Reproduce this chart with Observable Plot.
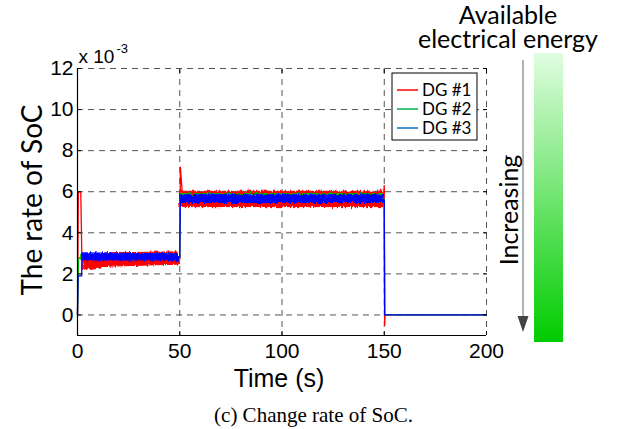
<!DOCTYPE html>
<html><head><meta charset="utf-8">
<script src="https://cdn.jsdelivr.net/npm/d3@7"></script>
<script src="https://cdn.jsdelivr.net/npm/@observablehq/plot@0.6"></script>
<style>
body{margin:0;background:#fff;}
#wrap{position:relative;width:619px;height:429px;overflow:hidden;background:#fff;}
#caption{position:absolute;left:4px;width:619px;top:403px;text-align:center;font-family:"Liberation Serif";font-size:21px;line-height:24px;color:#000;}
</style></head><body>
<div id="wrap"><div id="chart"></div><div id="caption">(c) Change rate of SoC.</div></div>
<script>
const xTicks = [0, 50, 100, 150, 200];
const yTicks = [0, 2, 4, 6, 8, 10, 12];
const seriesNames = ["DG #1", "DG #2", "DG #3"];
const seriesColors = ["#ff0000", "#00c000", "#0000ff"];
const legendColors = ["#ff0000", "#00b050", "#0070c0"];

// central trajectories (x 10^-3)
const dg1Time = [0, 0.4, 1.6, 2.2, 4, 10, 30, 49.6, 50, 50.3, 51.5, 100, 149.6, 150, 150.2, 150.4, 200];
const dg1Rate = [0, 6.0, 6.0, 2.4, 2.45, 2.6, 2.7, 2.75, 2.75, 7.2, 5.6, 5.6, 5.7, 6.3, -0.5, 0, 0];
const dg2Time = [0, 0.5, 1, 50, 50.3, 51, 150, 150.2, 200];
const dg2Rate = [0, 2.7, 2.8, 2.8, 5.9, 5.65, 5.65, 0, 0];
const dg3Time = [0, 0.3, 2, 2.3, 50, 50.3, 150, 150.2, 200];
const dg3Rate = [0, 1.9, 1.9, 2.95, 2.8, 5.6, 5.6, 0, 0];

// fluctuation envelopes
const bandSeries = ["DG #1","DG #1","DG #1","DG #1","DG #1", "DG #2","DG #2","DG #2","DG #2", "DG #3","DG #3","DG #3","DG #3"];
const bandSeg    = ["r1","r1","r1","r2","r2", "g1","g1","g2","g2", "b1","b1","b2","b2"];
const bandTime   = [3, 15, 49.6, 50.5, 149.6, 2, 49.6, 50.5, 149.6, 2.5, 49.6, 50.5, 149.6];
const bandLow    = [2.2, 2.35, 2.45, 5.25, 5.25, 2.7, 2.7, 5.5, 5.5, 2.65, 2.65, 5.45, 5.45];
const bandHigh   = [2.9, 3.0, 3.05, 6.0, 6.0, 2.95, 2.95, 5.88, 5.88, 3.0, 2.95, 5.83, 5.83];

const lines = [
  ...dg1Time.map((t, i) => ({t, v: dg1Rate[i], s: "DG #1"})),
  ...dg2Time.map((t, i) => ({t, v: dg2Rate[i], s: "DG #2"})),
  ...dg3Time.map((t, i) => ({t, v: dg3Rate[i], s: "DG #3"}))
];
const bands = bandTime.map((t, i) => ({t, lo: bandLow[i], hi: bandHigh[i], seg: bandSeg[i], s: bandSeries[i]}));

const dataMarks = [];
for (const name of seriesNames) {
  dataMarks.push(Plot.areaY(bands.filter(d => d.s === name), {x: "t", y1: "lo", y2: "hi", z: "seg", fill: "s", stroke: "s", strokeWidth: 1, curve: "linear", className: "band"}));
  dataMarks.push(Plot.lineY(lines.filter(d => d.s === name), {x: "t", y: "v", stroke: "s", strokeWidth: 1.3}));
}

const empty = () => "";
const chart = Plot.plot({
  width: 619, height: 395,
  marginLeft: 77, marginRight: 133, marginTop: 68, marginBottom: 60,
  style: {fontFamily: "Liberation Sans", background: "white", overflow: "visible", color: "#000"},
  x: {domain: [0, 200]},
  y: {domain: [-1, 12]},
  color: {domain: seriesNames, range: seriesColors},
  marks: [
    Plot.gridX(xTicks, {stroke: "#555", strokeOpacity: 1, strokeDasharray: "6,5"}),
    Plot.gridY(yTicks, {stroke: "#555", strokeOpacity: 1, strokeDasharray: "6,5"}),
    ...dataMarks,
    Plot.ruleX([0], {stroke: "#000", strokeWidth: 1.2}),
    Plot.ruleY([-1], {stroke: "#000", strokeWidth: 1.2}),
    Plot.axisX(xTicks, {anchor: "bottom", tickSize: 0, tickPadding: 8, fontSize: 21, label: null}),
    Plot.axisY(yTicks, {anchor: "left", tickSize: 0, tickPadding: 4, fontSize: 21, label: null}),
    Plot.axisX(xTicks, {anchor: "bottom", tickSize: -4, tickFormat: empty, label: null}),
    Plot.axisY(yTicks, {anchor: "left", tickSize: -4, tickFormat: empty, label: null}),
    Plot.axisX(xTicks, {anchor: "top", tickSize: -4, tickFormat: empty, label: null}),
    Plot.axisY(yTicks, {anchor: "right", tickSize: -4, tickFormat: empty, label: null}),
    Plot.text(["Time (s)"], {frameAnchor: "bottom", dx: -3, dy: 43, lineAnchor: "middle", textAnchor: "middle", fontSize: 25}),
    Plot.text(["The rate of SoC"], {frameAnchor: "left", dx: -44, dy: -2, rotate: -90, lineAnchor: "middle", textAnchor: "middle", fontSize: 28, fontFamily: "Lato"}),
    Plot.text(["x 10"], {frameAnchor: "top-left", dx: 1, dy: -12, textAnchor: "start", lineAnchor: "middle", fontSize: 19}),
    Plot.text(["-3"], {frameAnchor: "top-left", dx: 39, dy: -20, textAnchor: "start", lineAnchor: "middle", fontSize: 13})
  ]
});
document.getElementById("chart").appendChild(chart);

const svg = d3.select(chart);
// slight fuzz on the fluctuation bands to mimic the noisy traces
const defs = svg.append("defs");
const filt = defs.append("filter").attr("id", "fuzz").attr("x", "-5%").attr("y", "-50%").attr("width", "110%").attr("height", "200%");
filt.append("feTurbulence").attr("type", "fractalNoise").attr("baseFrequency", "0.6 0.15").attr("numOctaves", 2).attr("seed", 3).attr("result", "n");
filt.append("feDisplacementMap").attr("in", "SourceGraphic").attr("in2", "n").attr("scale", 5).attr("xChannelSelector", "R").attr("yChannelSelector", "G");
svg.selectAll("g.band").attr("filter", "url(#fuzz)");

// legend
const lg = svg.append("g").attr("text-anchor", "start");
lg.append("rect").attr("x", 392).attr("y", 73).attr("width", 85).attr("height", 67)
  .attr("fill", "white").attr("stroke", "#000").attr("stroke-width", 1);
seriesNames.forEach((n, i) => {
  const y = 90 + 19 * i;
  lg.append("line").attr("x1", 397).attr("x2", 418).attr("y1", y).attr("y2", y)
    .attr("stroke", legendColors[i]).attr("stroke-width", 1.5);
  lg.append("text").attr("x", 422).attr("y", y).attr("dy", "0.35em").attr("text-anchor", "start")
    .attr("font-family", "Lato").attr("font-size", 17).attr("fill", "#000").text(n);
});

// energy bar and arrow
const grad = defs.append("linearGradient").attr("id", "energy").attr("x1", 0).attr("x2", 0).attr("y1", 0).attr("y2", 1);
grad.append("stop").attr("offset", "0%").attr("stop-color", "#e0fde0");
grad.append("stop").attr("offset", "100%").attr("stop-color", "#00cc00");
svg.append("rect").attr("x", 534).attr("y", 53).attr("width", 29).attr("height", 289).attr("fill", "url(#energy)");

svg.append("line").attr("x1", 523).attr("x2", 523).attr("y1", 60).attr("y2", 318)
  .attr("stroke", "#999").attr("stroke-width", 1.5);
svg.append("path").attr("d", "M517.5,316 L528.5,316 L523,332 Z").attr("fill", "#444");

svg.append("text").attr("transform", "translate(509,210) rotate(-90)")
  .attr("text-anchor", "middle").attr("dy", "0.35em")
  .attr("font-family", "Lato").attr("font-size", 25).attr("fill", "#000").text("Increasing");
svg.append("text").attr("x", 508).attr("y", 24).attr("text-anchor", "middle")
  .attr("font-family", "Lato").attr("font-size", 25).attr("fill", "#000").text("Available");
svg.append("text").attr("x", 508).attr("y", 48).attr("text-anchor", "middle")
  .attr("font-family", "Lato").attr("font-size", 25).attr("fill", "#000").text("electrical energy");
</script>
</body></html>
